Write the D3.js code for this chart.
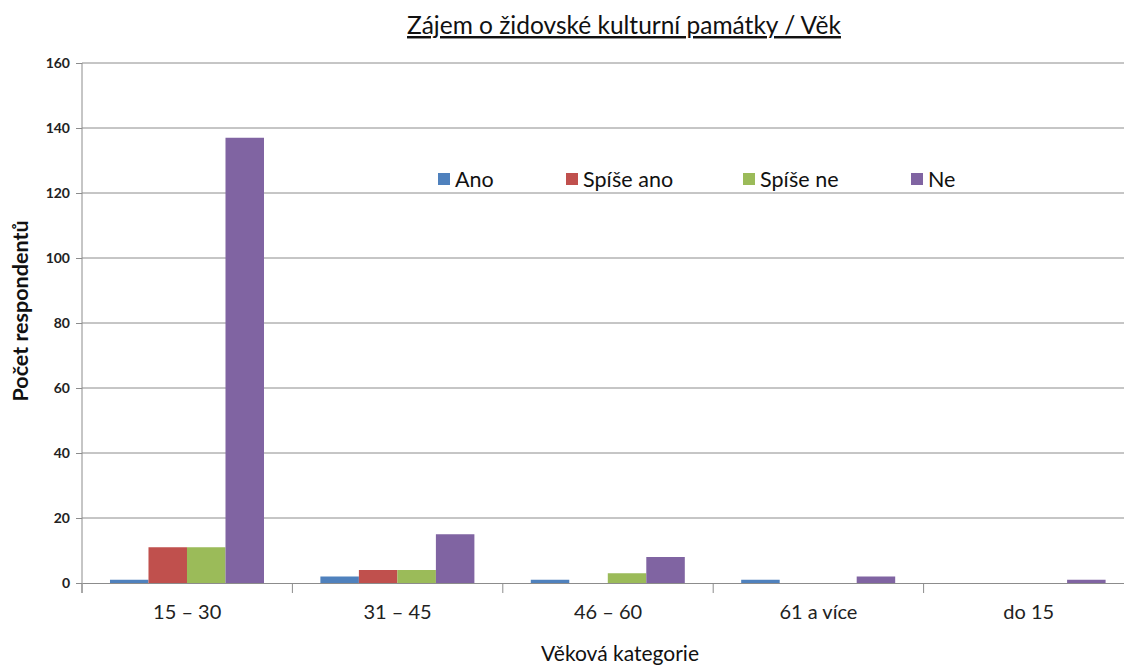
<!DOCTYPE html>
<html>
<head>
<meta charset="utf-8">
<script src="https://cdn.jsdelivr.net/npm/d3@7"></script>
<style>
  body { margin: 0; background: #fff; overflow: hidden; }
  svg { display: block; font-family: Lato, "Open Sans", sans-serif; }
</style>
</head>
<body>
<div id="chart"></div>
<script>
const categories = ["15 – 30", "31 – 45", "46 – 60", "61 a více", "do 15"];
const seriesNames = ["Ano", "Spíše ano", "Spíše ne", "Ne"];
const ano      = [1, 2, 1, 1, 0];
const spiseAno = [11, 4, 0, 0, 0];
const spiseNe  = [11, 4, 3, 0, 0];
const ne       = [137, 15, 8, 2, 1];
const yTicks = [0, 20, 40, 60, 80, 100, 120, 140, 160];

const seriesValues = [ano, spiseAno, spiseNe, ne];
const colors = ["#4f81bd", "#c0504d", "#9bbb59", "#8064a2"];

const data = categories.map((c, i) => ({
  cat: c,
  values: seriesNames.map((s, j) => ({ key: s, value: seriesValues[j][i] }))
}));

const W = 1124, H = 666;
// the plot area runs a little past the right edge, like the cropped original
const margin = { top: 63, right: -10, bottom: 83, left: 82 },
      width = W - margin.left - margin.right,
      height = H - margin.top - margin.bottom;

const svg = d3.select("#chart").append("svg")
  .attr("width", W)
  .attr("height", H);

const g = svg.append("g")
  .attr("transform", `translate(${margin.left},${margin.top})`);

const x0 = d3.scaleBand().domain(categories).range([0, width]).paddingInner(0).paddingOuter(0);
const x1 = d3.scaleBand().domain(seriesNames)
  .range([x0.bandwidth() * 0.133, x0.bandwidth() * 0.865]).padding(0);
const y = d3.scaleLinear().domain([0, 160]).range([height, 0]);
const color = d3.scaleOrdinal().domain(seriesNames).range(colors);

// gridlines
g.append("g")
  .selectAll("line")
  .data(yTicks.slice(1))
  .enter().append("line")
  .attr("x1", 0).attr("x2", width)
  .attr("y1", d => y(d)).attr("y2", d => y(d))
  .attr("stroke", "#8c8c8c").attr("stroke-width", 1);

// y axis
const yAxis = g.append("g")
  .call(d3.axisLeft(y).tickValues(yTicks).tickSize(6).tickPadding(6));
yAxis.select(".domain").attr("stroke", "#8c8c8c").attr("d", `M0,0V${height + 10}`);
yAxis.selectAll(".tick line").attr("stroke", "#8c8c8c");
yAxis.selectAll("text")
  .attr("font-size", "14px").attr("font-weight", "bold").attr("fill", "#222")
  .attr("font-family", "Lato, sans-serif");

// bars
data.forEach(d => {
  const grp = g.append("g").attr("transform", `translate(${x0(d.cat)},0)`);
  grp.selectAll("rect")
    .data(d.values)
    .enter().append("rect")
    .attr("x", v => x1(v.key))
    .attr("y", v => y(v.value))
    .attr("width", x1.bandwidth())
    .attr("height", v => height - y(v.value))
    .attr("fill", v => color(v.key));
});

// x axis
const xAxis = g.append("g")
  .attr("transform", `translate(0,${height})`)
  .call(d3.axisBottom(x0).tickSize(0).tickPadding(22));
xAxis.select(".domain").attr("stroke", "#8c8c8c");
xAxis.selectAll("text")
  .attr("font-size", "20px").attr("fill", "#222")
  .attr("font-family", "Lato, sans-serif");
g.append("g")
  .selectAll("line")
  .data(categories)
  .enter().append("line")
  .attr("x1", d => x0(d)).attr("x2", d => x0(d))
  .attr("y1", height).attr("y2", height + 10)
  .attr("stroke", "#8c8c8c");

// legend box (covers gridlines)
const legend = svg.append("g");
legend.append("rect")
  .attr("x", 367).attr("y", 129).attr("width", 652).attr("height", 63)
  .attr("fill", "#fff");
const legendX = [438, 566, 743, 911];
seriesNames.forEach((s, i) => {
  legend.append("rect")
    .attr("x", legendX[i]).attr("y", 173)
    .attr("width", 12).attr("height", 12)
    .attr("fill", color(s));
  legend.append("text")
    .attr("x", legendX[i] + 17).attr("y", 187)
    .attr("font-size", "21.5px").attr("fill", "#111")
    .text(s);
});

// title
svg.append("text")
  .attr("x", 624).attr("y", 34)
  .attr("text-anchor", "middle")
  .attr("font-size", "24.5px").attr("fill", "#111")
  .attr("text-decoration", "underline")
  .text("Zájem o židovské kulturní památky / Věk");

// axis titles
svg.append("text")
  .attr("x", 620).attr("y", 661)
  .attr("text-anchor", "middle")
  .attr("font-size", "21px").attr("fill", "#111")
  .text("Věková kategorie");

svg.append("text")
  .attr("transform", "rotate(-90)")
  .attr("x", -311).attr("y", 28)
  .attr("text-anchor", "middle")
  .attr("font-size", "21.5px").attr("font-weight", "bold").attr("fill", "#111")
  .text("Počet respondentů");
</script>
</body>
</html>
